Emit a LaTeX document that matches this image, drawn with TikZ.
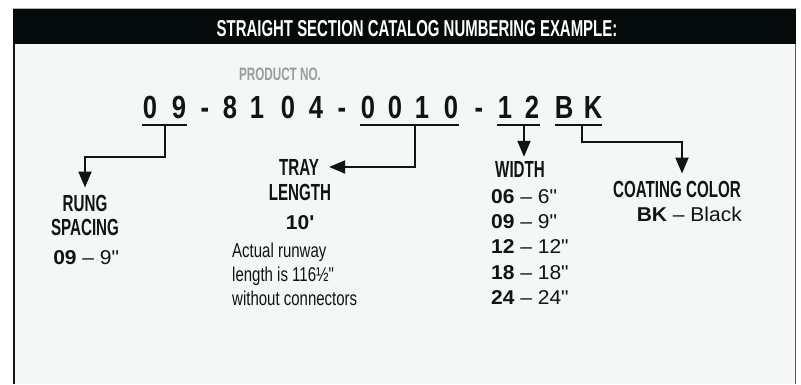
\documentclass[tikz,border=0pt]{standalone}
\usepackage{fontspec}
\setmainfont{Liberation Sans}
\newfontfamily\dincond[FakeStretch=0.65]{Liberation Sans}
\newfontfamily\dinlight[FakeStretch=0.75]{Liberation Sans}
\newfontfamily\dinreg[FakeStretch=1.05]{Liberation Sans}
\newfontfamily\dinnum[FakeStretch=0.8]{Liberation Sans}
\usetikzlibrary{arrows.meta}
\definecolor{pagebg}{RGB}{245,247,247}
\definecolor{ink}{RGB}{17,20,20}
\definecolor{hdr}{RGB}{5,10,10}
\definecolor{pngray}{RGB}{155,157,157}

\begin{document}
\begin{tikzpicture}[
  x=1pt, y=-1pt, >={Triangle[length=16pt,width=13pt]},
  ttl/.style={font=\dincond\bfseries\fontsize{23}{26}\selectfont, text=white, inner sep=0pt, anchor=base},
  pno/.style={font=\dincond\bfseries\fontsize{18}{20}\selectfont, text=pngray, inner sep=0pt, anchor=base},
  pd/.style={font=\dinnum\bfseries\fontsize{32}{34}\selectfont, text=ink, inner sep=0pt,
             minimum width=16pt, text height=23pt, text depth=6.5pt, anchor=base},
  lbl/.style={font=\dincond\bfseries\fontsize{23.3}{26}\selectfont, text=ink, inner sep=0pt, anchor=base},
  val/.style={font=\dinreg\fontsize{20}{24}\selectfont, text=ink, inner sep=0pt, anchor=base west},
  note/.style={font=\dinlight\fontsize{20}{24}\selectfont, text=ink, inner sep=0pt, anchor=base west},
  uln/.style={line width=2pt, draw=ink},
  arr/.style={->, line width=2pt, draw=ink},
]
\useasboundingbox (0,0) rectangle (801,384);
% ---------------- frame and header bar ----------------
\fill[pagebg] (13,8) rectangle (796,384);
\fill[hdr] (13,8) rectangle (796,44);
\draw[gray!60, line width=0.8pt] (13,8) -- (796,8);
\draw[ink, line width=1.6pt] (13.8,44) -- (13.8,384);
\draw[gray!70!black, line width=1pt] (795.5,44) -- (795.5,384);
\node[ttl] (title) at (417,36) {STRAIGHT SECTION CATALOG NUMBERING EXAMPLE:};
% ---------------- product number ----------------
\node[pno] (prodno) at (280,80) {PRODUCT NO.};
\foreach \x/\c [count=\i] in {150/0,179/9,205/-,230/8,257/1,288/0,316/4,342/-,
                              368/0,395/0,422/1,451/0,479/-,505/1,532/2,564/B,593/K}
  \node[pd] (p\i) at (\x,118.3) {\c};
\draw[uln] (p1.south west) -- (p2.south east);
\draw[uln] (p9.south west) -- (p12.south east);
\draw[uln] (p14.south west) -- (p15.south east);
\draw[uln] (p16.south west) -- (p17.south east);
\coordinate (k1) at (165,124.8);
\coordinate (k2) at (415,124.8);
\coordinate (k3) at (524,124.8);
\coordinate (k4) at (582,124.8);
% ---------------- rung spacing ----------------
\node[lbl] (rung) at (85,211) {RUNG};
\node[lbl] (spacing) at (85,235) {SPACING};
\node[val, anchor=base] (rungval) at (86,264) {{\bfseries 09} \textendash{} 9\textquotedbl};
\draw[arr] (k1) -- ++(0,32) -| ([yshift=7pt]rung.north);
% ---------------- tray length ----------------
\node[lbl] (tray) at (299,175) {TRAY};
\node[lbl] (length) at (300,200) {LENGTH};
\node[val, anchor=base] (tenft) at (300,229) {\bfseries 10\textquotesingle};
\node[note] (note1) at (232,257) {Actual runway};
\node[note] (note2) at (232,281) {length is 116½\textquotedbl};
\node[note] (note3) at (232,305) {without connectors};
\draw[arr] (k2) |- ([xshift=10pt]tray.east);
% ---------------- width ----------------
\node[lbl, anchor=base west] (width) at (495,177) {WIDTH};
\foreach \y/\a/\b [count=\i] in {203/06/6, 228/09/9, 253/12/12, 279/18/18, 304/24/24}
  \node[val] (w\i) at (491,\y) {{\bfseries \a} \textendash{} \b\textquotedbl};
\draw[arr] (k3) -- ([yshift=4pt]k3 |- width.north);
% ---------------- coating color ----------------
\node[lbl, anchor=base west] (coat) at (613,197) {COATING COLOR};
\node[val, anchor=base east] (black) at (742,221) {{\bfseries BK} \textendash{} Black};
\draw[arr] (k4) -- ++(0,17) -| ([xshift=5pt,yshift=7pt]coat.north);
\end{tikzpicture}
\end{document}
